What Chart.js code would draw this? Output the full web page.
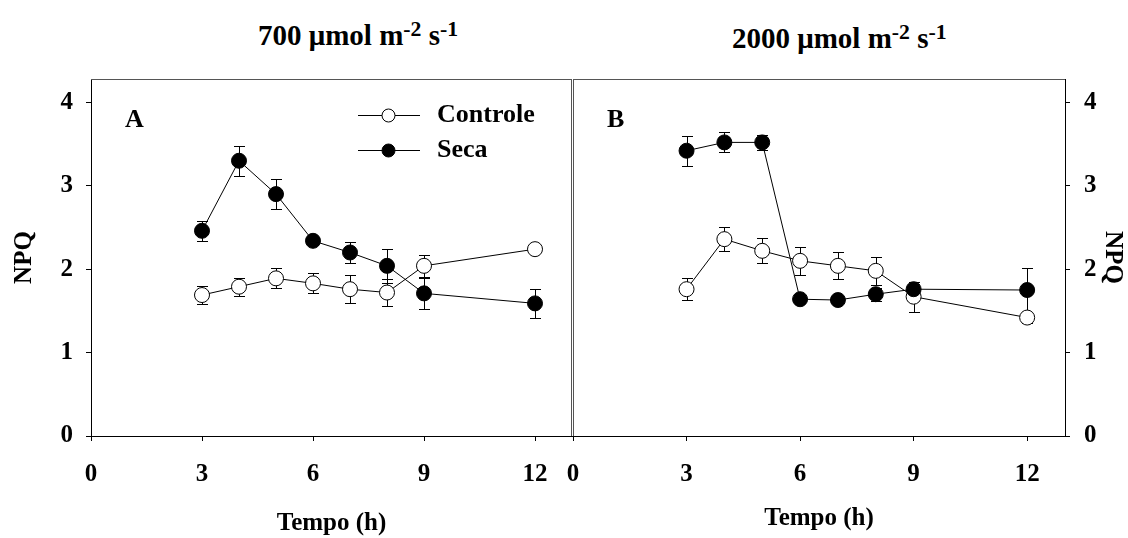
<!DOCTYPE html>
<html>
<head>
<meta charset="utf-8">
<script src="https://cdn.jsdelivr.net/npm/chart.js@4/dist/chart.umd.min.js"></script>
<style>
  body { margin: 0; background: #fff; }
  #quadro { position: relative; width: 1128px; height: 538px; }
  #quadro canvas { position: absolute; left: 0; top: 0; }
  .titulo { position: absolute; font: bold 29px "Liberation Serif", serif; line-height: 29px; white-space: nowrap; color: #000; }
  .titulo .sup { position: relative; top: -0.42em; font-size: 0.75em; }
</style>
</head>
<body>
<div id="quadro">
  <div class="titulo" style="left:258px; top:21px;">700 &mu;mol m<span class="sup">-2</span> s<span class="sup">-1</span></div>
  <div class="titulo" style="left:732px; top:24px;">2000 &mu;mol m<span class="sup">-2</span> s<span class="sup">-1</span></div>
  <canvas id="graficoA" width="1128" height="538"></canvas>
  <canvas id="graficoB" width="1128" height="538"></canvas>
</div>
<script>
// horas de coleta
var horas = [3, 4, 5, 6, 7, 8, 9, 12];

// NPQ sob 700 umol m-2 s-1
var controleA = [1.69, 1.79, 1.89, 1.83, 1.76, 1.72, 2.04, 2.24];
var controleA_ep = [0.11, 0.11, 0.12, 0.12, 0.17, 0.16, 0.13, 0.04];
var secaA = [2.46, 3.30, 2.90, 2.34, 2.20, 2.04, 1.71, 1.59];
var secaA_ep = [0.12, 0.18, 0.18, 0.05, 0.13, 0.20, 0.19, 0.17];

// NPQ sob 2000 umol m-2 s-1
var controleB = [1.76, 2.36, 2.22, 2.10, 2.04, 1.98, 1.67, 1.42];
var controleB_ep = [0.13, 0.14, 0.15, 0.17, 0.16, 0.17, 0.18, 0.07];
var secaB = [3.42, 3.52, 3.52, 1.64, 1.63, 1.70, 1.76, 1.75];
var secaB_ep = [0.18, 0.12, 0.09, 0.05, 0.04, 0.08, 0.06, 0.26];

var ticksX = [0, 3, 6, 9, 12];
var ticksY = [0, 1, 2, 3, 4];

Chart.defaults.font.family = '"Liberation Serif", serif';
Chart.defaults.color = '#000';

var fonteTick = { family: '"Liberation Serif", serif', size: 25, weight: 'bold' };
var fonteTitulo = { family: '"Liberation Serif", serif', size: 25, weight: 'bold', lineHeight: 1 };

function pontos(valores) {
    return horas.map(function (h, i) { return { x: h, y: valores[i] }; });
}

function serie(nome, valores, erros, cheio, ordem) {
    return {
        label: nome,
        data: pontos(valores),
        erro: erros,
        borderColor: '#000',
        borderWidth: 1,
        pointRadius: 7.5,
        pointBorderWidth: 1,
        pointBorderColor: '#000',
        pointBackgroundColor: cheio ? '#000' : '#fff',
        order: ordem,
        fill: false,
        tension: 0
    };
}

// barras de erro (desenhadas antes dos pontos)
var barrasErro = {
    id: 'barrasErro',
    beforeDatasetsDraw: function (chart) {
        var ctx = chart.ctx, x = chart.scales.x, y = chart.scales.y;
        ctx.save();
        ctx.strokeStyle = '#000';
        ctx.lineWidth = 1;
        chart.data.datasets.forEach(function (ds) {
            ds.data.forEach(function (p, i) {
                var px = Math.round(x.getPixelForValue(p.x)) + 0.5;
                var y1 = Math.round(y.getPixelForValue(p.y + ds.erro[i])) + 0.5;
                var y2 = Math.round(y.getPixelForValue(p.y - ds.erro[i])) + 0.5;
                ctx.beginPath();
                ctx.moveTo(px, y1); ctx.lineTo(px, y2);
                ctx.moveTo(px - 5.5, y1); ctx.lineTo(px + 5.5, y1);
                ctx.moveTo(px - 5.5, y2); ctx.lineTo(px + 5.5, y2);
                ctx.stroke();
            });
        });
        ctx.restore();
    }
};

// moldura do painel (lados sem eixo) e letra do painel
var moldura = {
    id: 'moldura',
    afterDraw: function (chart, args, opts) {
        var a = chart.chartArea, ctx = chart.ctx;
        ctx.save();
        ctx.strokeStyle = '#555';
        ctx.lineWidth = 1;
        ctx.beginPath();
        ctx.moveTo(a.left, a.top + 0.5); ctx.lineTo(a.right, a.top + 0.5);
        var lado = opts.lado === 'left' ? a.left + 0.5 : a.right - 0.5;
        ctx.moveTo(lado, a.top); ctx.lineTo(lado, a.bottom);
        ctx.stroke();
        ctx.fillStyle = '#000';
        ctx.font = 'bold 26px "Liberation Serif", serif';
        ctx.textBaseline = 'middle';
        ctx.fillText(opts.letra, a.left + 34, 120);
        ctx.restore();
    }
};

// legenda com linha e marcador
var legenda = {
    id: 'legenda',
    afterDraw: function (chart) {
        var ctx = chart.ctx;
        ctx.save();
        ctx.font = 'bold 26px "Liberation Serif", serif';
        ctx.textBaseline = 'middle';
        chart.data.datasets.forEach(function (ds, i) {
            var yy = 115.5 + i * 35;
            ctx.strokeStyle = '#000';
            ctx.lineWidth = 1;
            ctx.beginPath();
            ctx.moveTo(358, yy); ctx.lineTo(420, yy);
            ctx.stroke();
            ctx.beginPath();
            ctx.arc(388.5, yy, 6.5, 0, Math.PI * 2);
            ctx.fillStyle = ds.pointBackgroundColor;
            ctx.fill();
            ctx.stroke();
            ctx.fillStyle = '#000';
            ctx.fillText(ds.label, 437, yy);
        });
        ctx.restore();
    }
};

function escalaX(padTitulo) {
    return {
        type: 'linear',
        min: 0,
        max: 13,
        afterBuildTicks: function (s) { s.ticks = ticksX.map(function (v) { return { value: v }; }); },
        afterFit: function (s) { s.height = 102; },
        border: { color: '#000', width: 1 },
        grid: { drawOnChartArea: false, drawTicks: true, tickLength: 5, color: '#000' },
        ticks: { font: fonteTick, padding: 19, maxRotation: 0, autoSkip: false },
        title: { display: true, text: 'Tempo (h)', font: fonteTitulo, padding: { top: 0, bottom: padTitulo } }
    };
}

function escalaY(posicao, largura, padTick, padTitulo) {
    return {
        type: 'linear',
        position: posicao,
        min: 0,
        max: 4.28,
        afterBuildTicks: function (s) { s.ticks = ticksY.map(function (v) { return { value: v }; }); },
        afterFit: function (s) { s.width = largura; },
        border: { color: '#000', width: 1 },
        grid: { drawOnChartArea: false, drawTicks: true, tickLength: 5, color: '#000' },
        ticks: { font: fonteTick, padding: padTick },
        title: { display: true, text: 'NPQ', font: fonteTitulo, padding: { top: padTitulo, bottom: 0 } }
    };
}

var chartA = new Chart(document.getElementById('graficoA').getContext('2d'), {
    type: 'line',
    data: {
        datasets: [
            serie('Controle', controleA, controleA_ep, false, 2),
            serie('Seca', secaA, secaA_ep, true, 1)
        ]
    },
    options: {
        responsive: false,
        animation: false,
        layout: { padding: { left: 8, top: 79, right: 556, bottom: 0 } },
        scales: { x: escalaX(1.5), y: escalaY('left', 83, 13, 4) },
        plugins: { legend: { display: false }, tooltip: { enabled: false }, moldura: { lado: 'right', letra: 'A' } }
    },
    plugins: [barrasErro, moldura, legenda]
});

var chartB = new Chart(document.getElementById('graficoB').getContext('2d'), {
    type: 'line',
    data: {
        datasets: [
            serie('Controle', controleB, controleB_ep, false, 2),
            serie('Seca', secaB, secaB_ep, true, 1)
        ]
    },
    options: {
        responsive: false,
        animation: false,
        layout: { padding: { left: 573, top: 79, right: 0, bottom: 0 } },
        scales: { x: escalaX(6.5), y: escalaY('right', 63, 14, 3.5) },
        plugins: { legend: { display: false }, tooltip: { enabled: false }, moldura: { lado: 'left', letra: 'B' } }
    },
    plugins: [barrasErro, moldura]
});
</script>
</body>
</html>
